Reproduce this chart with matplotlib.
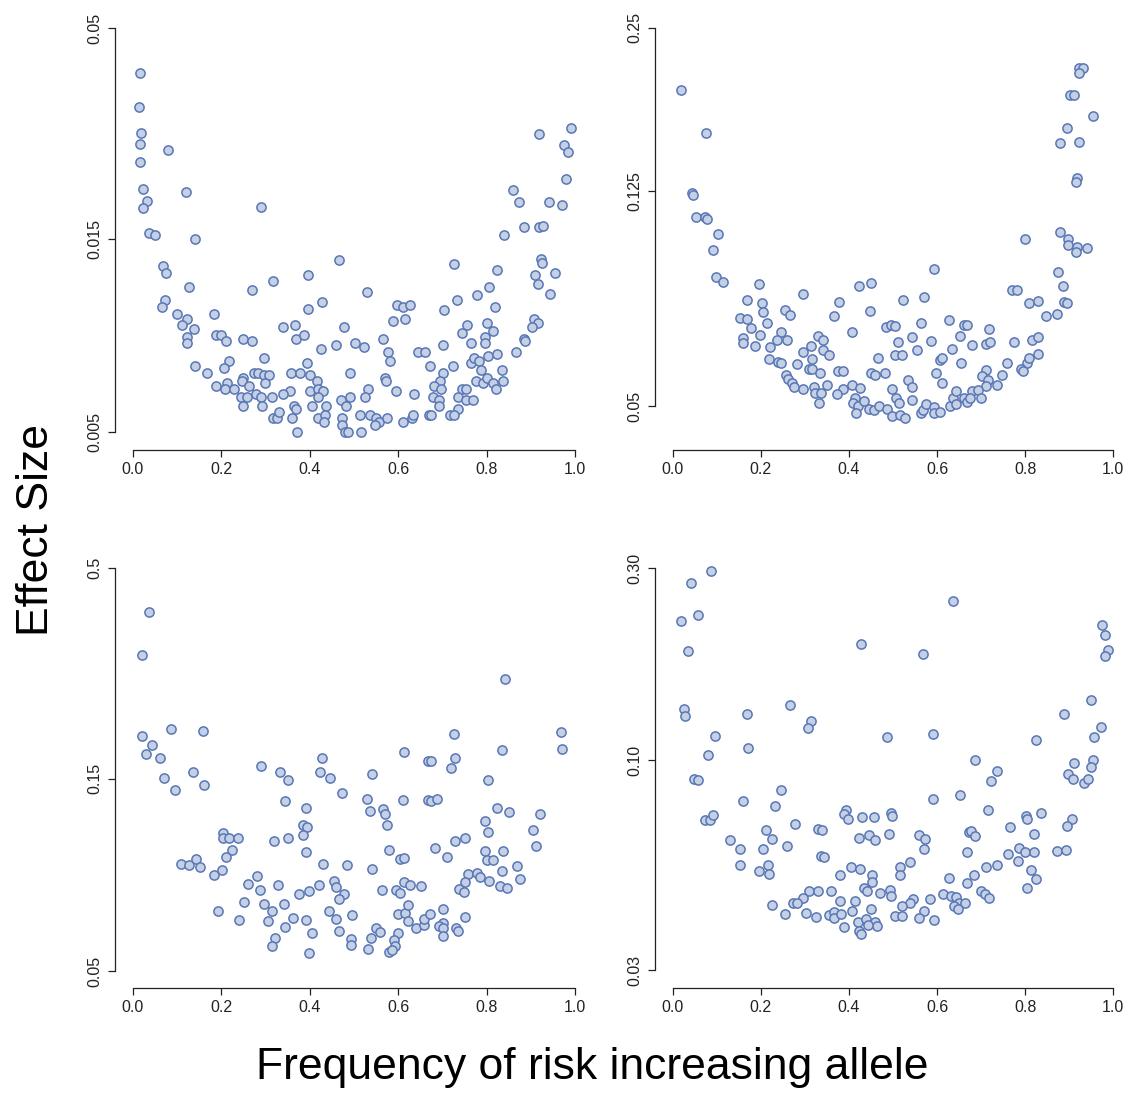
import matplotlib
matplotlib.use("Agg")
import matplotlib.pyplot as plt
from matplotlib.ticker import FixedLocator, FixedFormatter, NullLocator

plt.rcParams['font.family'] = ['Liberation Sans', 'DejaVu Sans']

# --- top left panel
tl_freq = [0.017, 0.014, 0.018, 0.016, 0.017, 0.080, 0.023, 0.032, 0.023, 0.121, 0.289, 0.036, 0.050, 0.140,
           0.069, 0.076, 0.127, 0.270, 0.318, 0.072, 0.066, 0.100, 0.184, 0.123, 0.111, 0.139, 0.122, 0.122,
           0.188, 0.199, 0.210, 0.250, 0.270, 0.140, 0.167, 0.218, 0.207, 0.297, 0.189, 0.212, 0.209, 0.229,
           0.250, 0.247, 0.262, 0.275, 0.284, 0.296, 0.309, 0.300, 0.244, 0.259, 0.250, 0.278, 0.291, 0.292,
           0.315, 0.317, 0.325,
           0.465, 0.397, 0.529, 0.427, 0.397, 0.597, 0.610, 0.626, 0.587, 0.615, 0.340, 0.367, 0.368, 0.386,
           0.477, 0.425, 0.459, 0.502, 0.522, 0.566, 0.576, 0.581, 0.645, 0.661, 0.672, 0.358, 0.377, 0.394,
           0.400, 0.417, 0.491, 0.569, 0.572, 0.355, 0.339, 0.401, 0.419, 0.430, 0.419, 0.531, 0.525, 0.471,
           0.492, 0.483, 0.594, 0.635, 0.364, 0.369, 0.406, 0.437, 0.331, 0.361, 0.419, 0.434, 0.432, 0.372,
           0.474, 0.474, 0.480, 0.487, 0.514, 0.516, 0.536, 0.550, 0.556, 0.548, 0.574, 0.610, 0.630, 0.634,
           0.670,
           0.990, 0.919, 0.975, 0.983, 0.980, 0.860, 0.872, 0.940, 0.969, 0.885, 0.919, 0.927, 0.839, 0.725,
           0.824, 0.922, 0.924, 0.910, 0.915, 0.954, 0.943, 0.806, 0.733, 0.778, 0.819, 0.704, 0.756, 0.743,
           0.801, 0.814, 0.796, 0.797, 0.764, 0.701, 0.907, 0.915, 0.903, 0.883, 0.886, 0.865, 0.724, 0.702,
           0.695, 0.681, 0.697, 0.765, 0.772, 0.783, 0.786, 0.803, 0.823, 0.835, 0.837, 0.775, 0.792, 0.801,
           0.815, 0.821, 0.743, 0.753, 0.678, 0.691, 0.692, 0.734, 0.752, 0.768, 0.734, 0.675, 0.717, 0.726]
tl_effect = [0.0387, 0.0318, 0.0275, 0.0258, 0.0233, 0.0249, 0.0200, 0.0187, 0.0179, 0.0196, 0.0180, 0.0155,
             0.0154, 0.0150, 0.0129, 0.0124, 0.0114, 0.0112, 0.0118, 0.0106, 0.0102, 0.0098, 0.0098, 0.0095,
             0.0092, 0.0090, 0.0086, 0.0083, 0.0087, 0.0087, 0.0084, 0.0085, 0.0084, 0.0073, 0.0070, 0.0075,
             0.0072, 0.0076, 0.0065, 0.0066, 0.0064, 0.0064, 0.0068, 0.0067, 0.0065, 0.0070, 0.0070, 0.0069,
             0.0069, 0.0066, 0.0061, 0.0061, 0.0058, 0.0062, 0.0061, 0.0058, 0.0061, 0.0054, 0.0054,
             0.0133, 0.0122, 0.0111, 0.0105, 0.0101, 0.0103, 0.0102, 0.0103, 0.0094, 0.0095, 0.0091, 0.0092,
             0.0085, 0.0087, 0.0091, 0.0080, 0.0082, 0.0083, 0.0081, 0.0085, 0.0079, 0.0075, 0.0079, 0.0079,
             0.0073, 0.0070, 0.0070, 0.0074, 0.0069, 0.0067, 0.0070, 0.0068, 0.0067, 0.0063, 0.0062, 0.0063,
             0.0064, 0.0063, 0.0061, 0.0064, 0.0061, 0.0060, 0.0061, 0.0058, 0.0063, 0.0062, 0.0058, 0.0057,
             0.0058, 0.0058, 0.0056, 0.0054, 0.0054, 0.0055, 0.0053, 0.0050, 0.0054, 0.0052, 0.0050, 0.0050,
             0.0055, 0.0050, 0.0055, 0.0054, 0.0053, 0.0052, 0.0054, 0.0053, 0.0054, 0.0055, 0.0055,
             0.0283, 0.0274, 0.0256, 0.0247, 0.0211, 0.0199, 0.0185, 0.0185, 0.0182, 0.0161, 0.0161, 0.0162,
             0.0154, 0.0130, 0.0126, 0.0134, 0.0131, 0.0122, 0.0116, 0.0124, 0.0110, 0.0114, 0.0106, 0.0109,
             0.0102, 0.0100, 0.0092, 0.0088, 0.0093, 0.0089, 0.0086, 0.0083, 0.0083, 0.0082, 0.0095, 0.0093,
             0.0091, 0.0085, 0.0084, 0.0079, 0.0073, 0.0070, 0.0067, 0.0065, 0.0064, 0.0074, 0.0076, 0.0075,
             0.0071, 0.0077, 0.0078, 0.0071, 0.0067, 0.0067, 0.0066, 0.0068, 0.0066, 0.0064, 0.0064, 0.0064,
             0.0061, 0.0060, 0.0058, 0.0061, 0.0060, 0.0060, 0.0057, 0.0055, 0.0055, 0.0055]

# --- top right panel
tr_freq = [0.019, 0.075, 0.045, 0.046, 0.052, 0.073, 0.079, 0.102, 0.091, 0.099, 0.114, 0.195, 0.295, 0.168,
           0.202, 0.204, 0.255, 0.267, 0.152, 0.168, 0.177, 0.214, 0.160, 0.160, 0.188, 0.199, 0.220, 0.247,
           0.237, 0.259, 0.219, 0.240, 0.245, 0.283, 0.295, 0.313, 0.330, 0.317, 0.309, 0.317, 0.258, 0.262,
           0.270, 0.275, 0.295, 0.320, 0.323, 0.333,
           0.594, 0.423, 0.451, 0.378, 0.366, 0.448, 0.523, 0.571, 0.407, 0.485, 0.495, 0.504, 0.564, 0.626,
           0.662, 0.667, 0.342, 0.543, 0.511, 0.586, 0.653, 0.341, 0.355, 0.467, 0.504, 0.520, 0.555, 0.607,
           0.611, 0.634, 0.654, 0.334, 0.376, 0.386, 0.449, 0.459, 0.482, 0.597, 0.350, 0.337, 0.386, 0.373,
           0.408, 0.425, 0.414, 0.410, 0.421, 0.416, 0.435, 0.446, 0.458, 0.468, 0.487, 0.497, 0.497, 0.506,
           0.514, 0.516, 0.527, 0.534, 0.544, 0.542, 0.563, 0.569, 0.574, 0.594, 0.593, 0.607, 0.611, 0.630,
           0.636, 0.644, 0.642, 0.661, 0.667,
           0.921, 0.930, 0.922, 0.902, 0.911, 0.953, 0.895, 0.880, 0.922, 0.917, 0.916, 0.800, 0.880, 0.896,
           0.898, 0.917, 0.915, 0.940, 0.874, 0.886, 0.770, 0.782, 0.809, 0.830, 0.887, 0.895, 0.848, 0.872,
           0.718, 0.680, 0.711, 0.720, 0.775, 0.815, 0.828, 0.830, 0.758, 0.804, 0.808, 0.791, 0.796, 0.711,
           0.702, 0.716, 0.748, 0.710, 0.736, 0.680, 0.693, 0.700, 0.674]
tr_effect = [0.192, 0.160, 0.124, 0.123, 0.112, 0.112, 0.111, 0.104, 0.0973, 0.0868, 0.0849, 0.0842, 0.0806,
             0.0784, 0.0776, 0.0746, 0.0754, 0.0738, 0.0728, 0.0725, 0.0697, 0.0713, 0.0667, 0.0655, 0.0645,
             0.0678, 0.0642, 0.0686, 0.0663, 0.0663, 0.0610, 0.0604, 0.0601, 0.0598, 0.0630, 0.0646, 0.0673,
             0.0610, 0.0585, 0.0585, 0.0570, 0.0562, 0.0551, 0.0543, 0.0538, 0.0543, 0.0530, 0.0506,
             0.0897, 0.0835, 0.0844, 0.0780, 0.0734, 0.0751, 0.0785, 0.0795, 0.0686, 0.0699, 0.0705, 0.0702,
             0.0711, 0.0720, 0.0706, 0.0706, 0.0664, 0.0672, 0.0657, 0.0661, 0.0675, 0.0635, 0.0623, 0.0614,
             0.0623, 0.0621, 0.0635, 0.0608, 0.0614, 0.0637, 0.0602, 0.0577, 0.0580, 0.0580, 0.0575, 0.0570,
             0.0576, 0.0577, 0.0547, 0.0530, 0.0538, 0.0526, 0.0548, 0.0540, 0.0518, 0.0506, 0.0500, 0.0485,
             0.0511, 0.0495, 0.0492, 0.0501, 0.0495, 0.0479, 0.0538, 0.0518, 0.0506, 0.0481, 0.0476, 0.0560,
             0.0543, 0.0513, 0.0486, 0.0492, 0.0504, 0.0499, 0.0486, 0.0487, 0.0552, 0.0500, 0.0518, 0.0533,
             0.0504, 0.0518, 0.0509,
             0.211, 0.211, 0.206, 0.188, 0.188, 0.172, 0.163, 0.153, 0.154, 0.132, 0.130, 0.102, 0.105, 0.102,
             0.0994, 0.0984, 0.0965, 0.0980, 0.0886, 0.0834, 0.0818, 0.0818, 0.0776, 0.0781, 0.0780, 0.0774,
             0.0734, 0.0741, 0.0694, 0.0649, 0.0652, 0.0658, 0.0656, 0.0662, 0.0670, 0.0625, 0.0601, 0.0601,
             0.0614, 0.0585, 0.0582, 0.0583, 0.0568, 0.0560, 0.0570, 0.0546, 0.0547, 0.0534, 0.0536, 0.0518,
             0.0518]

# --- bottom left panel
bl_freq = [0.036, 0.020, 0.022, 0.043, 0.029, 0.087, 0.158, 0.062, 0.071, 0.095, 0.136, 0.161, 0.289, 0.204,
           0.204, 0.217, 0.237, 0.224, 0.211, 0.201, 0.184, 0.108, 0.128, 0.143, 0.152, 0.320, 0.333, 0.280,
           0.260, 0.287, 0.328, 0.251, 0.297, 0.314, 0.192, 0.240, 0.305, 0.321, 0.315,
           0.427, 0.613, 0.668, 0.351, 0.424, 0.445, 0.541, 0.472, 0.343, 0.391, 0.529, 0.610, 0.668, 0.536,
           0.565, 0.570, 0.575, 0.385, 0.394, 0.385, 0.352, 0.391, 0.580, 0.604, 0.613, 0.431, 0.484, 0.540,
           0.376, 0.398, 0.421, 0.455, 0.460, 0.477, 0.466, 0.564, 0.595, 0.605, 0.614, 0.627, 0.652, 0.342,
           0.363, 0.392, 0.443, 0.460, 0.495, 0.600, 0.615, 0.621, 0.622, 0.345, 0.406, 0.466, 0.493, 0.494,
           0.550, 0.558, 0.538, 0.531, 0.600, 0.591, 0.593, 0.579, 0.586, 0.399, 0.639, 0.658, 0.659,
           0.841, 0.726, 0.968, 0.971, 0.834, 0.673, 0.728, 0.719, 0.802, 0.674, 0.687, 0.824, 0.851, 0.920,
           0.796, 0.802, 0.904, 0.912, 0.684, 0.711, 0.728, 0.750, 0.796, 0.800, 0.813, 0.837, 0.835, 0.869,
           0.876, 0.757, 0.777, 0.784, 0.806, 0.751, 0.738, 0.749, 0.829, 0.846, 0.701, 0.671, 0.701, 0.691,
           0.702, 0.700, 0.731, 0.735, 0.751]
bl_effect = [0.388, 0.305, 0.192, 0.182, 0.173, 0.199, 0.197, 0.169, 0.151, 0.141, 0.156, 0.145, 0.161, 0.110,
             0.107, 0.107, 0.107, 0.100, 0.096, 0.089, 0.0867, 0.0923, 0.0917, 0.0947, 0.0908, 0.105, 0.156,
             0.0860, 0.0822, 0.0793, 0.0817, 0.0743, 0.0733, 0.0706, 0.0703, 0.0670, 0.0667, 0.0604, 0.0578,
             0.169, 0.175, 0.166, 0.149, 0.156, 0.151, 0.154, 0.138, 0.132, 0.127, 0.134, 0.133, 0.133, 0.125,
             0.126, 0.123, 0.115, 0.115, 0.114, 0.109, 0.107, 0.0989, 0.100, 0.0947, 0.0955, 0.0920, 0.0917,
             0.0894, 0.0775, 0.0791, 0.0817, 0.0836, 0.0809, 0.0775, 0.0757, 0.0795, 0.0796, 0.0780, 0.0833,
             0.0820, 0.0813, 0.0732, 0.0676, 0.0671, 0.0703, 0.0674, 0.0689, 0.0694, 0.0698, 0.0730, 0.0667,
             0.0642, 0.0620, 0.0630, 0.0602, 0.0580, 0.0638, 0.0624, 0.0605, 0.0567, 0.0620, 0.0597, 0.0578,
             0.0558, 0.0564, 0.0556, 0.0640, 0.0650, 0.0673,
             0.265, 0.194, 0.196, 0.178, 0.177, 0.166, 0.169, 0.160, 0.149, 0.132, 0.134, 0.127, 0.124, 0.123,
             0.118, 0.111, 0.112, 0.102, 0.101, 0.096, 0.105, 0.107, 0.0993, 0.0942, 0.0944, 0.0991, 0.0884,
             0.0912, 0.0846, 0.0870, 0.0878, 0.0857, 0.0835, 0.0832, 0.0799, 0.0787, 0.0811, 0.0802, 0.0711,
             0.0692, 0.0660, 0.0648, 0.0640, 0.0611, 0.0640, 0.0630, 0.0680]

# --- bottom right panel
br_freq = [0.088, 0.041, 0.057, 0.020, 0.035, 0.025, 0.028, 0.169, 0.267, 0.315, 0.308, 0.097, 0.080, 0.172,
           0.048, 0.057, 0.160, 0.246, 0.232, 0.074, 0.084, 0.092, 0.277, 0.211, 0.226, 0.130, 0.153, 0.204,
           0.260, 0.152, 0.216, 0.197, 0.218, 0.330, 0.337, 0.310, 0.329, 0.295, 0.272, 0.282, 0.226, 0.256,
           0.303, 0.325,
           0.636, 0.427, 0.567, 0.487, 0.590, 0.590, 0.653, 0.393, 0.388, 0.398, 0.430, 0.456, 0.496, 0.497,
           0.340, 0.422, 0.446, 0.460, 0.490, 0.560, 0.572, 0.571, 0.672, 0.667, 0.343, 0.405, 0.425, 0.379,
           0.452, 0.453, 0.516, 0.516, 0.539, 0.627, 0.668, 0.360, 0.435, 0.442, 0.471, 0.494, 0.495, 0.379,
           0.414, 0.545, 0.539, 0.583, 0.614, 0.632, 0.644, 0.650, 0.664, 0.639, 0.648, 0.521, 0.354, 0.367,
           0.367, 0.381, 0.406, 0.450, 0.504, 0.520, 0.570, 0.560, 0.593, 0.389, 0.420, 0.438, 0.460, 0.464,
           0.423, 0.427, 0.443,
           0.974, 0.982, 0.988, 0.980, 0.949, 0.887, 0.973, 0.955, 0.825, 0.687, 0.736, 0.723, 0.954, 0.949,
           0.911, 0.897, 0.908, 0.933, 0.943, 0.716, 0.835, 0.905, 0.801, 0.804, 0.766, 0.895, 0.677, 0.687,
           0.820, 0.787, 0.760, 0.799, 0.820, 0.783, 0.872, 0.893, 0.736, 0.711, 0.683, 0.813, 0.824, 0.805,
           0.700, 0.709, 0.718]
br_effect = [0.295, 0.276, 0.229, 0.222, 0.187, 0.134, 0.129, 0.130, 0.137, 0.125, 0.120, 0.115, 0.103, 0.107,
             0.0897, 0.0891, 0.0792, 0.0841, 0.0767, 0.0708, 0.0709, 0.0731, 0.0692, 0.0671, 0.0636, 0.0632,
             0.0601, 0.0600, 0.0611, 0.0547, 0.0547, 0.0531, 0.0522, 0.0672, 0.0577, 0.0472, 0.0472, 0.0455,
             0.0440, 0.0440, 0.0435, 0.0414, 0.0417, 0.0407,
             0.248, 0.194, 0.183, 0.114, 0.116, 0.0798, 0.0816, 0.0752, 0.0733, 0.0714, 0.0722, 0.0720, 0.0740,
             0.0725, 0.0671, 0.0641, 0.0652, 0.0631, 0.0653, 0.0652, 0.0636, 0.0602, 0.0662, 0.0592, 0.0575,
             0.0542, 0.0537, 0.0519, 0.0519, 0.0498, 0.0542, 0.0519, 0.0556, 0.0508, 0.0495, 0.0471, 0.0480,
             0.0471, 0.0467, 0.0474, 0.0459, 0.0445, 0.0447, 0.0450, 0.0441, 0.0451, 0.0463, 0.0459, 0.0457,
             0.0442, 0.0442, 0.0434, 0.0426, 0.0434, 0.0411, 0.0419, 0.0404, 0.0413, 0.0421, 0.0426, 0.0409,
             0.0409, 0.0421, 0.0404, 0.0401, 0.0384, 0.0396, 0.0402, 0.0396, 0.0386, 0.0375, 0.0369, 0.0388,
             0.216, 0.205, 0.188, 0.181, 0.141, 0.130, 0.121, 0.114, 0.112, 0.100, 0.0941, 0.0888, 0.100,
             0.0963, 0.0984, 0.0925, 0.0899, 0.0876, 0.0895, 0.0750, 0.0740, 0.0712, 0.0726, 0.0713, 0.0683,
             0.0684, 0.0665, 0.0648, 0.0655, 0.0605, 0.0583, 0.0589, 0.0589, 0.0562, 0.0593, 0.0598, 0.0549,
             0.0541, 0.0517, 0.0534, 0.0507, 0.0480, 0.0472, 0.0463, 0.0455]

x_ticks = [0.0, 0.2, 0.4, 0.6, 0.8, 1.0]
x_labels = ["0.0", "0.2", "0.4", "0.6", "0.8", "1.0"]
tl_ticks, tl_labels = [0.005, 0.015, 0.05], ["0.005", "0.015", "0.05"]
tr_ticks, tr_labels = [0.05, 0.125, 0.25], ["0.05", "0.125", "0.25"]
bl_ticks, bl_labels = [0.05, 0.15, 0.5], ["0.05", "0.15", "0.5"]
br_ticks, br_labels = [0.03, 0.10, 0.30], ["0.03", "0.10", "0.30"]

W, H = 1132, 1093
fig = plt.figure(figsize=(W / 100, H / 100), dpi=100)

face = "#c5d0e5"
edge = "#5877b6"
ink = "#222222"

panels = [
    # (pixel box l, t, r, b), freq, effect, ticks, labels, ylim
    ((115, 12, 593, 450), tl_freq, tl_effect, tl_ticks, tl_labels, (0.00451, 0.0548)),
    ((655, 12, 1131, 450), tr_freq, tr_effect, tr_ticks, tr_labels, (0.0415, 0.2675)),
    ((115, 552, 593, 988), bl_freq, bl_effect, bl_ticks, bl_labels, (0.0454, 0.548)),
    ((655, 552, 1131, 988), br_freq, br_effect, br_ticks, br_labels, (0.0271, 0.329)),
]

for box, fx, fy, yt, yl, ylim in panels:
    l, t, r, b = box
    ax = fig.add_axes([l / W, 1 - b / H, (r - l) / W, (b - t) / H])
    ax.scatter(fx, fy, s=44, facecolor=face, edgecolor=edge, linewidths=1.1, zorder=3)
    ax.set_yscale("log")
    ax.set_xlim(-0.04, 1.04)
    ax.set_ylim(*ylim)
    ax.xaxis.set_major_locator(FixedLocator(x_ticks))
    ax.xaxis.set_major_formatter(FixedFormatter(x_labels))
    ax.yaxis.set_major_locator(FixedLocator(yt))
    ax.yaxis.set_major_formatter(FixedFormatter(yl))
    ax.yaxis.set_minor_locator(NullLocator())
    ax.xaxis.set_minor_locator(NullLocator())
    for side in ["top", "right"]:
        ax.spines[side].set_visible(False)
    ax.spines["left"].set_bounds(yt[0], yt[-1])
    ax.spines["bottom"].set_bounds(0, 1)
    for side in ["left", "bottom"]:
        ax.spines[side].set_color(ink)
        ax.spines[side].set_linewidth(0.9)
    ax.tick_params(direction="out", length=5, width=0.9, color=ink, labelsize=11.5,
                   labelcolor=ink, pad=4)
    ax.tick_params(axis="y", labelrotation=90)
    plt.setp(ax.get_yticklabels(), va="center")
    ax.set_facecolor("none")

fig.text(0.032, 0.515, "Effect Size", rotation=90, fontsize=32, ha="center", va="center", color="black")
fig.text(0.523, 0.023, "Frequency of risk increasing allele", fontsize=32, ha="center", va="center",
         color="black")

fig.savefig("out.png", dpi=100)
